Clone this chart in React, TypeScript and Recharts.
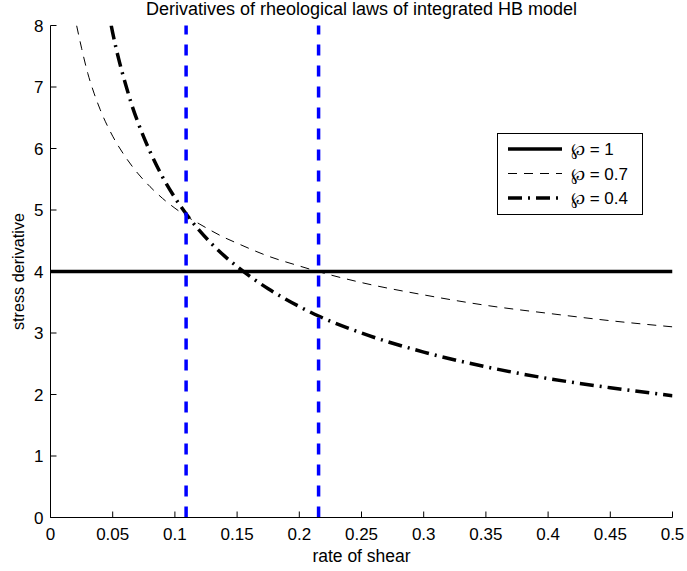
import React from 'react';
import { LineChart, Line, XAxis, YAxis, ReferenceLine, Legend } from 'recharts';

const FONT = '"Liberation Sans", Arial, Helvetica, sans-serif';

const titleText = 'Derivatives of rheological laws of integrated HB model';
const xLabelText = 'rate of shear';
const yLabelText = 'stress derivative';

const xTicks = [0, 0.05, 0.1, 0.15, 0.2, 0.25, 0.3, 0.35, 0.4, 0.45, 0.5];
const yTicks = [0, 1, 2, 3, 4, 5, 6, 7, 8];

// phi = 1
const rateP1 = [0, 0.5];
const stressP1 = [4, 4];

// phi = 0.7
const rateP07 = [0.021, 0.025, 0.03, 0.035, 0.04, 0.05, 0.06, 0.07, 0.08, 0.09, 0.1, 0.11, 0.12, 0.14, 0.15, 0.175, 0.2, 0.215, 0.25, 0.3, 0.35, 0.4, 0.45, 0.5];
const stressP07 = [8.0, 7.63, 7.22, 6.9, 6.63, 6.2, 5.87, 5.6, 5.38, 5.19, 5.03, 4.89, 4.77, 4.55, 4.46, 4.25, 4.09, 4.0, 3.82, 3.62, 3.45, 3.32, 3.2, 3.1];

// phi = 0.4
const rateP04 = [0.0488, 0.05, 0.055, 0.06, 0.065, 0.07, 0.08, 0.09, 0.1, 0.11, 0.12, 0.14, 0.15, 0.175, 0.2, 0.215, 0.25, 0.3, 0.35, 0.4, 0.45, 0.5];
const stressP04 = [8.0, 7.88, 7.44, 7.07, 6.73, 6.44, 5.95, 5.54, 5.2, 4.91, 4.66, 4.25, 4.08, 3.72, 3.43, 3.28, 3.0, 2.69, 2.45, 2.26, 2.11, 1.98];

// vertical markers
const crossingRates = [0.109, 0.2155];

const seriesNames = ['\u2118 = 1', '\u2118 = 0.7', '\u2118 = 0.4'];
const seriesDash = ['', '9 7', '14 6 2 6'];
const seriesWidth = [3.5, 1, 3.5];

const toData = (xs: number[], ys: number[]) => xs.map((x, i) => ({ x, y: ys[i] }));
const seriesData = [toData(rateP1, stressP1), toData(rateP07, stressP07), toData(rateP04, stressP04)];

const TICK_LEN = 6;
const X_MARGIN = 10.5;
const Y_MARGIN = 7;

const BottomTick = (props: any) => {
  const { x, y, payload } = props;
  const axisY = y - X_MARGIN;
  return (
    <g>
      <line x1={x} x2={x} y1={axisY} y2={axisY - TICK_LEN} stroke="#000" strokeWidth={1} />
      <text x={x} y={y} dy="0.71em" textAnchor="middle" fontSize={17} fontFamily={FONT} fill="#000">{String(payload.value)}</text>
    </g>
  );
};

const LeftTick = (props: any) => {
  const { x, y, payload } = props;
  const axisX = x + Y_MARGIN;
  return (
    <g>
      <line x1={axisX} x2={axisX + TICK_LEN} y1={y} y2={y} stroke="#000" strokeWidth={1} />
      <text x={x} y={y} dy="0.355em" textAnchor="end" fontSize={17} fontFamily={FONT} fill="#000">{String(payload.value)}</text>
    </g>
  );
};

const TopTick = (props: any) => {
  const { x, y } = props;
  return <line x1={x} x2={x} y1={y} y2={y + TICK_LEN} stroke="#000" strokeWidth={1} />;
};

const RightTick = (props: any) => {
  const { x, y } = props;
  return <line x1={x} x2={x - TICK_LEN} y1={y} y2={y} stroke="#000" strokeWidth={1} />;
};

const LegendBox = () => (
  <svg width={146} height={82} style={{ display: 'block' }}>
    <rect x={0.5} y={0.5} width={145} height={81} fill="#fff" stroke="#000" strokeWidth={1} />
    {seriesNames.map((name, i) => {
      const cy = 16 + i * 24.5;
      return (
        <g key={name}>
          <line x1={11} x2={65} y1={cy} y2={cy} stroke="#000" strokeWidth={seriesWidth[i]} strokeDasharray={seriesDash[i] || undefined} />
          <text x={74} y={cy} dy="0.36em" fontSize={17} fontFamily={FONT} fill="#000">{name}</text>
        </g>
      );
    })}
  </svg>
);

export default function App() {
  return (
    <div style={{ position: 'absolute', left: 0, top: 0, width: 687, height: 571, background: '#fff' }}>
      <LineChart width={687} height={571} margin={{ top: 25.5, right: 14.5, bottom: 23.5, left: 0 }}>
        <XAxis
          xAxisId={0}
          type="number"
          dataKey="x"
          domain={[0, 0.5]}
          ticks={xTicks}
          allowDataOverflow
          height={30}
          stroke="#000"
          tickSize={0}
          tickLine={false}
          tickMargin={X_MARGIN}
          tick={<BottomTick />}
        />
        <XAxis
          xAxisId="top"
          orientation="top"
          type="number"
          domain={[0, 0.5]}
          ticks={xTicks}
          height={0}
          stroke="#000"
          tickSize={0}
          tickLine={false}
          tickMargin={0}
          tick={<TopTick />}
        />
        <YAxis
          yAxisId={0}
          type="number"
          domain={[0, 8]}
          ticks={yTicks}
          allowDataOverflow
          width={50.5}
          stroke="#000"
          tickSize={0}
          tickLine={false}
          tickMargin={Y_MARGIN}
          tick={<LeftTick />}
        />
        <YAxis
          yAxisId="right"
          orientation="right"
          type="number"
          domain={[0, 8]}
          ticks={yTicks}
          width={0}
          stroke="#000"
          tickSize={0}
          tickLine={false}
          tickMargin={0}
          tick={<RightTick />}
        />
        {seriesData.map((d, i) => (
          <Line
            key={seriesNames[i]}
            data={d}
            dataKey="y"
            name={seriesNames[i]}
            type="monotone"
            stroke="#000"
            strokeWidth={seriesWidth[i]}
            strokeDasharray={seriesDash[i] || undefined}
            dot={false}
            activeDot={false}
            isAnimationActive={false}
          />
        ))}
        {crossingRates.map((r) => (
          <ReferenceLine key={r} x={r} stroke="#0000ff" strokeWidth={3.5} strokeDasharray="11 10" />
        ))}
        <Legend
          layout="vertical"
          align="center"
          verticalAlign="middle"
          content={() => <LegendBox />}
          wrapperStyle={{ left: 496.5, top: 132.5, width: 146, height: 82 }}
        />
      </LineChart>
      <svg width={687} height={571} style={{ position: 'absolute', left: 0, top: 0, pointerEvents: 'none' }}>
        <text x={361.5} y={15} textAnchor="middle" fontSize={18} fontFamily={FONT} fill="#000">{titleText}</text>
        <text x={361.5} y={561.5} textAnchor="middle" fontSize={17.5} fontFamily={FONT} fill="#000">{xLabelText}</text>
        <text transform="translate(24,271.5) rotate(-90)" x={0} y={0} textAnchor="middle" fontSize={16.2} fontFamily={FONT} fill="#000">{yLabelText}</text>
      </svg>
    </div>
  );
}
